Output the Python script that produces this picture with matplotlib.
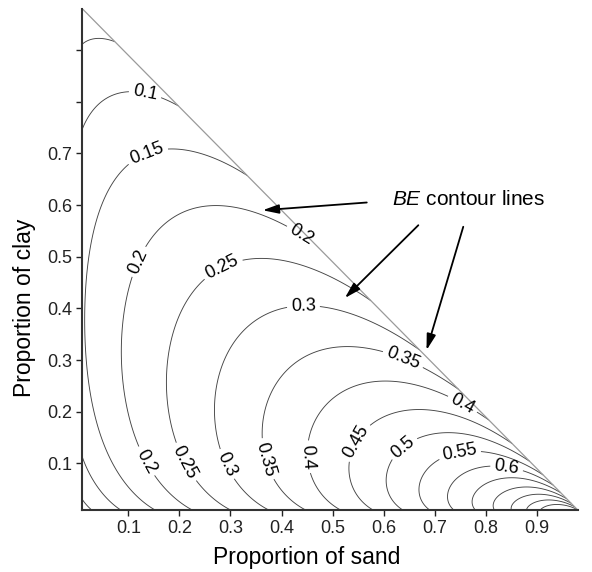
import numpy as np
import matplotlib
matplotlib.use("Agg")
import matplotlib.pyplot as plt

# ---- data -------------------------------------------------------------
# particle-size class limits (micrometres): clay | silt | sand
class_names = ["clay", "silt", "sand"]
class_limits = [0.0, 2.0, 50.0, 2000.0]
# texture grid used for the map (proportions)
grid_min = 0.01
grid_max = 0.98
grid_step = 0.001

# contour levels of the balanced-entropy index BE
label_levels = [0.10, 0.15, 0.20, 0.25, 0.30, 0.35, 0.40, 0.45, 0.50, 0.55, 0.60]
plain_levels = [0.05, 0.65, 0.70, 0.75, 0.80, 0.85]
# where the labels sit (sand, clay)
label_sand = [0.133, 0.139, 0.121, 0.440, 0.133, 0.286, 0.213, 0.443, 0.296,
              0.639, 0.377, 0.757, 0.459, 0.557, 0.645, 0.750, 0.841]
label_clay = [0.816, 0.694, 0.490, 0.545, 0.103, 0.476, 0.103, 0.403, 0.100,
              0.304, 0.110, 0.219, 0.113, 0.136, 0.123, 0.114, 0.091]

x_ticks = [0.1, 0.2, 0.3, 0.4, 0.5, 0.6, 0.7, 0.8, 0.9]
x_tick_labels = ["0.1", "0.2", "0.3", "0.4", "0.5", "0.6", "0.7", "0.8", "0.9"]
y_ticks = [0.1, 0.2, 0.3, 0.4, 0.5, 0.6, 0.7, 0.8, 0.9]
y_tick_labels = ["0.1", "0.2", "0.3", "0.4", "0.5", "0.6", "0.7", "", ""]

annot_text = r"$\mathit{BE}$ contour lines"
annot_text_pos = (0.616, 0.610)
arrow_tails = [(0.567, 0.605), (0.668, 0.561), (0.756, 0.558)]
arrow_tips = [(0.363, 0.590), (0.524, 0.420), (0.684, 0.319)]

# ---- style -------------------------------------------------------------
plt.rcParams["font.family"] = ["Liberation Sans", "DejaVu Sans"]
plt.rcParams["mathtext.fontset"] = "custom"
plt.rcParams["mathtext.it"] = "Liberation Sans:italic"
plt.rcParams["mathtext.rm"] = "Liberation Sans"

# ---- balanced entropy field -------------------------------------------
lengths = np.diff(class_limits) / class_limits[-1]
vals = np.arange(grid_min, grid_max + grid_step / 2, grid_step)
S, C = np.meshgrid(vals, vals)
T = 1.0 - S - C
valid = T >= grid_min - 1e-9
Tc = np.clip(T, 1e-12, None)
fractions = [C, Tc, S]
num = sum(w * np.log(w) for w in fractions)
den = sum(w * np.log(l) for w, l in zip(fractions, lengths))
BE = np.ma.masked_where(~valid, num / den)

# ---- figure --------------------------------------------------------------
fig = plt.figure(figsize=(5.92, 5.72), dpi=100)
ax = fig.add_axes([0.1392, 0.1087, 0.8365, 0.8759])

line_kw = dict(colors="#444444", linewidths=0.65)
ax.contour(S, C, BE, levels=plain_levels, **line_kw)
cs = ax.contour(S, C, BE, levels=label_levels, **line_kw)
ax.clabel(cs, inline=True, inline_spacing=4, fmt="%g",
          fontsize=13, colors="black",
          manual=list(zip(label_sand, label_clay)))

# triangle boundary (silt = minimum)
ax.plot([grid_min, grid_max], [grid_max, grid_min], color="#9a9a9a", lw=0.9)

ax.set_xlim(grid_min, grid_max)
ax.set_ylim(grid_min, grid_max)
ax.set_xticks(x_ticks)
ax.set_xticklabels(x_tick_labels)
ax.set_yticks(y_ticks)
ax.set_yticklabels(y_tick_labels)
ax.tick_params(direction="out", length=4.5, width=1.0, labelsize=13,
               colors="#222222", pad=3)
for side in ["top", "right"]:
    ax.spines[side].set_visible(False)
for side in ["left", "bottom"]:
    ax.spines[side].set_linewidth(1.5)
    ax.spines[side].set_color("#333333")

ax.set_xlabel("Proportion of sand", fontsize=16.5)
ax.set_ylabel("Proportion of clay", fontsize=16.5)
ax.xaxis.set_label_coords(0.452, -0.073)
ax.yaxis.set_label_coords(-0.093, 0.404)

ax.text(annot_text_pos[0], annot_text_pos[1], annot_text, fontsize=15,
        ha="left", va="center")
for tail, tip in zip(arrow_tails, arrow_tips):
    ax.annotate("", xy=tip, xytext=tail,
                arrowprops=dict(arrowstyle="-|>,head_length=0.6,head_width=0.17",
                                color="black", lw=1.3,
                                mutation_scale=16, shrinkA=0, shrinkB=0))

fig.savefig("out.png", dpi=100, facecolor="white")
